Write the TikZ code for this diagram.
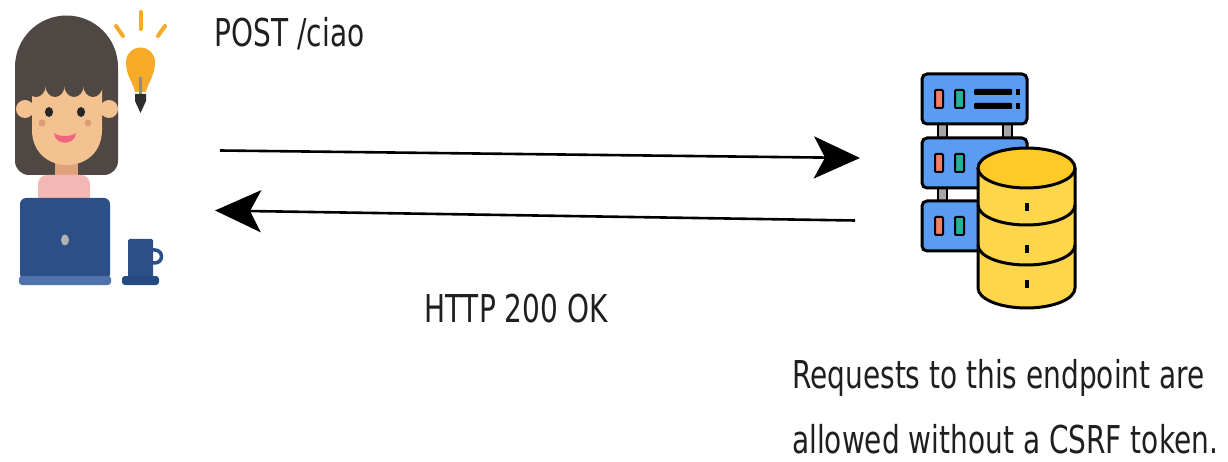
\documentclass[tikz,border=0pt]{standalone}
\usepackage{fontspec}
\setmainfont{DejaVu Sans}
\usepackage{xcolor}
\usetikzlibrary{arrows.meta}

\definecolor{hair}{HTML}{4F4743}
\definecolor{skin}{HTML}{F4C190}
\definecolor{skindark}{HTML}{E0A27C}
\definecolor{cheek}{HTML}{D99C75}
\definecolor{smile}{HTML}{F0667F}
\definecolor{shirt}{HTML}{F3B7B4}
\definecolor{laptop}{HTML}{2C4F88}
\definecolor{laptopbase}{HTML}{4E73AB}
\definecolor{saucer}{HTML}{244A82}
\definecolor{bulb}{HTML}{F7A928}
\definecolor{rack}{HTML}{5A9CF2}
\definecolor{ledred}{HTML}{F27E65}
\definecolor{ledgreen}{HTML}{1FB39A}
\definecolor{dbyellow}{HTML}{FDD64B}
\definecolor{dbtop}{HTML}{FFC928}

\tikzset{
	msgtext/.style={font=\fontsize{28}{47}\selectfont, text=black!88, yscale=1.37, inner sep=0pt},
	msg/.style={line width=2.6pt, -{Stealth[length=46pt, width=42pt, inset=11pt]}},
	unit/.style={draw=black, line width=3pt, fill=rack, rounded corners=5pt},
	led/.style={draw=black, line width=2pt, rounded corners=1pt},
	link/.style={draw=black, line width=1.5pt, fill=black!35},
}

\begin{document}
\begin{tikzpicture}[x=1pt, y=-1pt]
			\useasboundingbox (0,0) rectangle (1228,462);

			% hair
			\fill[hair] (15,67) arc (180:360:51.5) -- (118,120) -- (15,120) -- cycle;
			\fill[hair, rounded corners=14pt] (15,100) rectangle (118,175);

			% neck and shirt
			\fill[skindark] (55,150) rectangle (78,180);
			\fill[shirt, rounded corners=9pt] (38,205) -- (38,175) -- (90,175) -- (90,205) -- cycle;

			% face
			\fill[skin] (25,109) circle (9);
			\fill[skin] (109,109) circle (9);
			\fill[skin] (32,85) -- (32,130) .. controls (32,152) and (48,165) .. (67,165)
				.. controls (86,165) and (102,152) .. (102,130) -- (102,85) -- cycle;
			\fill[hair] (36,85) ellipse (9.8 and 12);
			\fill[hair] (55,85) ellipse (9.8 and 12);
			\fill[hair] (74,85) ellipse (9.8 and 12);
			\fill[hair] (93,85) ellipse (9.8 and 12);
			\fill[hair] (28,70) rectangle (106,85);
			\fill[black!85] (49,112) ellipse (4 and 5);
			\fill[black!85] (81,112) ellipse (4 and 5);
			\fill[cheek] (42,123) circle (3.5);
			\fill[cheek] (88,123) circle (3.5);
			\fill[smile] (54,133) .. controls (59,137) and (71,137) .. (76,133)
				.. controls (75,146) and (55,146) .. (54,133) -- cycle;

			% laptop
			\fill[laptop, rounded corners=6pt] (20,198) rectangle (110,280);
			\fill[black!30] (65,240) ellipse (4 and 5.5);
			\fill[laptopbase, rounded corners=3pt] (19,276) rectangle (111,285);

			% mug
			\draw[laptop, line width=3.5pt] (150,250) -- (155,250) arc (-90:90:6.5) -- (150,263);
			\fill[laptop, rounded corners=1.5pt] (128,239) rectangle (153,277);
			\fill[saucer, rounded corners=3pt] (122,276) rectangle (159,285);

			% bulb
			\draw[bulb, line width=4pt, line cap=round] (140.5,12) -- (140.5,29);
			\draw[bulb, line width=4pt, line cap=round] (116,26) -- (123,36);
			\draw[bulb, line width=4pt, line cap=round] (165,26) -- (158,36);
			\fill[bulb] (135,92) .. controls (133,82) and (126,76) .. (126,62) arc (180:360:14.5)
				.. controls (155,76) and (148,82) .. (146,92) -- cycle;
			\draw[black!45, line width=3pt] (140.5,77) -- (140.5,96);
			\fill[black!82] (135,94) -- (146,94) -- (146,101) -- (140.5,113) -- (135,101) -- cycle;

			% rack
			\draw[link] (938,124) rectangle (947,138);
			\draw[link] (1003,124) rectangle (1012,138);
			\draw[link] (938,188) rectangle (947,201);
			\draw[link] (1003,188) rectangle (1012,201);
			\draw[unit] (922,74) rectangle (1027,124);
			\draw[unit] (922,138) rectangle (1027,188);
			\draw[unit] (922,201) rectangle (1027,251);
			\draw[led, fill=ledred] (935,90) rectangle (943,108);
			\draw[led, fill=ledgreen] (955,90) rectangle (964,108);
			\draw[led, fill=ledred] (935,154) rectangle (943,172);
			\draw[led, fill=ledgreen] (955,154) rectangle (964,172);
			\draw[led, fill=ledred] (935,217) rectangle (943,235);
			\draw[led, fill=ledgreen] (955,217) rectangle (964,235);
			\fill[rounded corners=1pt] (974,89) rectangle (1012,95);
			\fill[rounded corners=1pt] (974,103) rectangle (1012,109);
			\fill (1016,89) rectangle (1020,95);
			\fill (1016,103) rectangle (1020,109);

			% database
			\fill[dbyellow] (978,168) -- (978,288) arc (180:0:48.5 and 20) -- (1075,168) -- cycle;
			\draw[line width=3pt] (978,168) -- (978,288) arc (180:0:48.5 and 20) -- (1075,168);
			\draw[line width=3pt] (978,205) arc (180:0:48.5 and 20);
			\draw[line width=3pt] (978,245) arc (180:0:48.5 and 20);
			\filldraw[fill=dbtop, line width=3pt] (1026.5,168) ellipse (48.5 and 20);
			\fill (1024.5,203) rectangle (1028.5,211);
			\fill (1024.5,245) rectangle (1028.5,253);
			\fill (1024.5,280) rectangle (1028.5,288);

			% request / response
			\coordinate (reqA) at (220,150.5);
			\coordinate (reqB) at (860,158);
			\coordinate (resA) at (855,220.5);
			\coordinate (resB) at (215,210.5);
			\draw[msg] (reqA) -- (reqB);
			\draw[msg] (resA) -- (resB);

			\node[msgtext, anchor=base west] (post) at (214.5,47) {POST /ciao};
			\node[msgtext, anchor=base west] (ok) at (424,322) {HTTP 200 OK};
			\node[msgtext, anchor=base west, align=left] (note) at (792,453)
				{Requests to this endpoint are\\allowed without a CSRF token.};
		\end{tikzpicture}
\end{document}
